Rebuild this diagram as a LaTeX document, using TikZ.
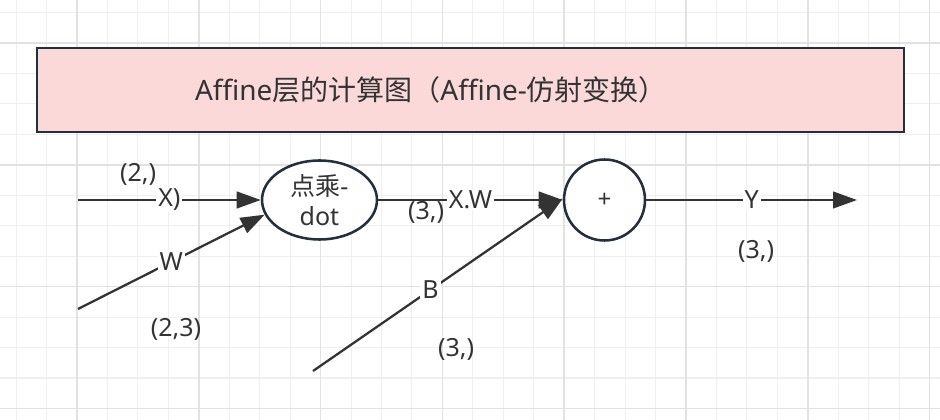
\documentclass[tikz,border=0pt]{standalone}
\usepackage{fontspec}
\setmainfont{Noto Sans}
\newfontfamily\cjk{Noto Sans CJK SC}
\usetikzlibrary{shapes.geometric,arrows.meta}
\definecolor{gridminor}{HTML}{EFEFEF}
\definecolor{gridmajor}{HTML}{E2E2E2}
\definecolor{titlefill}{HTML}{FAD9D8}
\definecolor{edgedark}{HTML}{232F3B}
\definecolor{inkgray}{HTML}{333333}
\tikzset{
  titlebox/.style={draw=edgedark, line width=1.9pt, fill=titlefill, text=inkgray,
    minimum height=63pt, inner xsep=118.5pt, inner ysep=0pt, text width=413.25pt, align=left,
    font=\fontsize{21pt}{25pt}\selectfont},
  opnode/.style={draw=edgedark, line width=1.9pt, fill=white, text=inkgray, inner sep=0pt},
  conn/.style={draw=inkgray, line width=1.7pt, -{Triangle[length=18pt,width=12.5pt]}},
  onlab/.style={fill=white, text=inkgray, inner xsep=1.5pt, inner ysep=1pt, font=\fontsize{18.75pt}{23pt}\selectfont},
  dimlab/.style={text=inkgray, inner sep=0pt, font=\fontsize{18.75pt}{23pt}\selectfont}
}
\begin{document}
\begin{tikzpicture}[x=0.75pt, y=-0.75pt]
\useasboundingbox (0,0) rectangle (940,420);
\fill[white] (0,0) rectangle (940,420);
% grid
\foreach \k in {0,...,30} {
  \pgfmathsetmacro{\gx}{16.1+30.45*\k}
  \pgfmathsetmacro{\gy}{12.6+30.45*\k}
  \draw[gridminor, line width=0.8pt] (\gx,0) -- (\gx,420);
  \draw[gridminor, line width=0.8pt] (0,\gy) -- (940,\gy);
}
\foreach \k in {0,...,7} {
  \pgfmathsetmacro{\gx}{77+121.8*\k}
  \draw[gridmajor, line width=1.1pt] (\gx,0) -- (\gx,420);
}
\foreach \k in {0,...,3} {
  \pgfmathsetmacro{\gy}{43+121.8*\k}
  \draw[gridmajor, line width=1.1pt] (0,\gy) -- (940,\gy);
}
% title
\node[titlebox] (title) at (470.5,90) {Affine{\cjk 层的计算图（}Affine-{\cjk 仿射变换）}};
% operation nodes
\node[opnode, ellipse, minimum width=86.25pt, minimum height=59.25pt, align=center,
  font=\fontsize{18.75pt}{23pt}\selectfont] (dot) at (319.5,200) {{\cjk 点乘}-\\dot};
\node[opnode, circle, minimum size=60.75pt, font=\fontsize{18pt}{20pt}\selectfont] (plus) at (604.5,200) {+};
% free ends
\coordinate (xs) at (78,200);
\coordinate (ws) at (78,309);
\coordinate (bs) at (313,371);
\coordinate (ye) at (857,200);
% connectors
\draw[conn] (xs) -- node[onlab] (xl) {X)} (dot.west);
\draw[conn] (ws) -- node[onlab, pos=0.5] (wl) {W} (dot.195);
\draw[conn] (dot.east) -- node[onlab] (xwl) {X.W} (plus.west);
\draw[conn] (bs) -- node[onlab, pos=0.47] (bl) {B} (plus.178);
\draw[conn] (plus.east) -- node[onlab] (yl) {Y} (ye);
% dimension labels
\node[dimlab] (d1) at (138,174) {(2,)};
\node[dimlab] (d2) at (176,329) {(2,3)};
\node[dimlab] (d3) at (426,212) {(3,)};
\node[dimlab] (d4) at (456,349) {(3,)};
\node[dimlab] (d5) at (756,251) {(3,)};
\end{tikzpicture}
\end{document}
